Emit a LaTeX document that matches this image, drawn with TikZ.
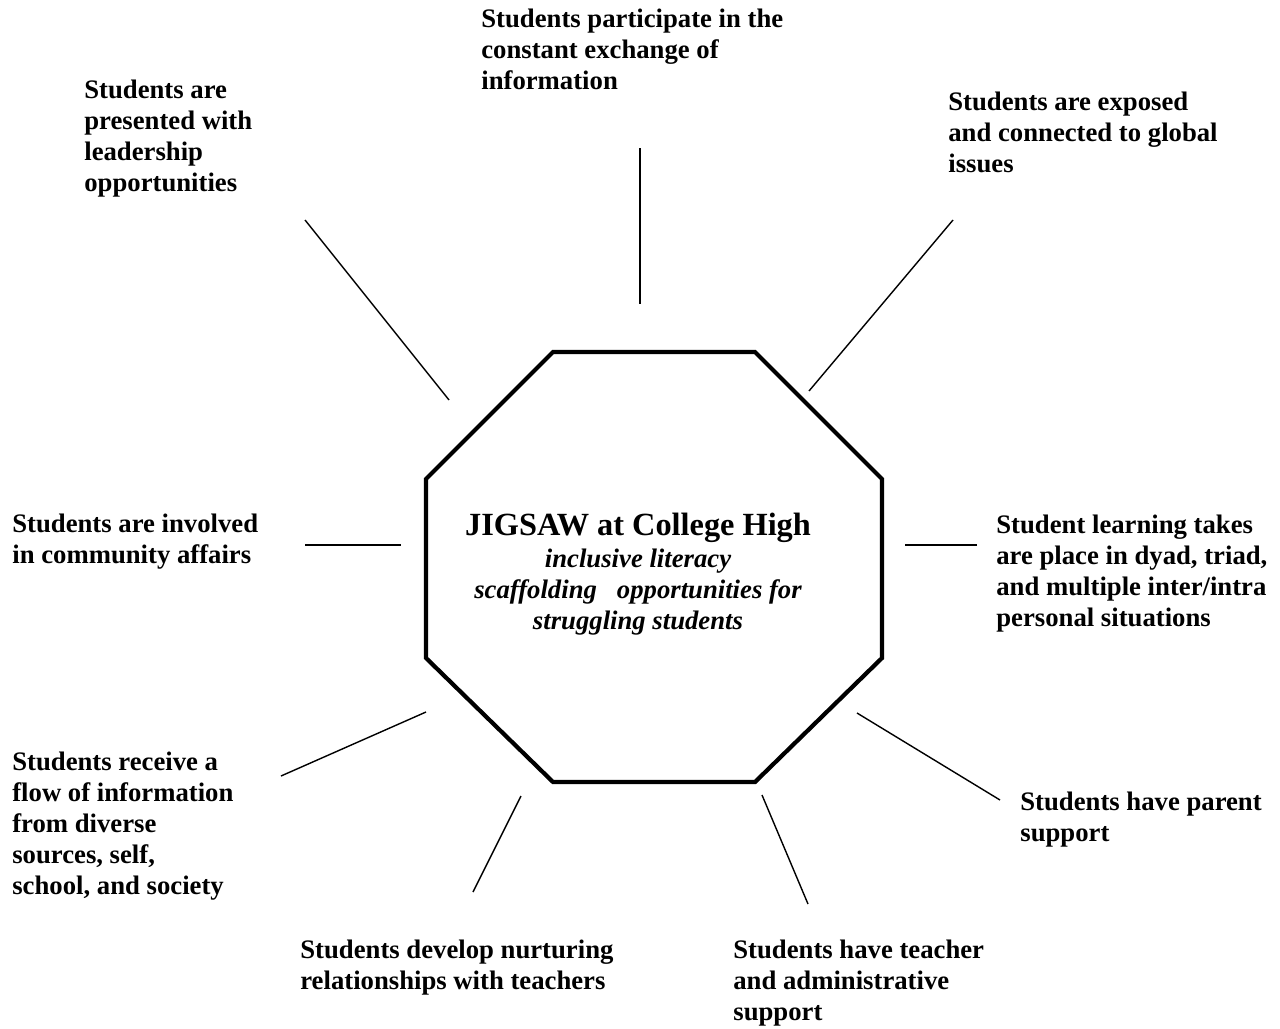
\documentclass[tikz,border=0pt]{standalone}
\usepackage{fontspec}
\setmainfont{Liberation Serif}
\usetikzlibrary{positioning}

\begin{document}
\begin{tikzpicture}[
    x=0.02cm, y=-0.02cm,
    labeltext/.style={anchor=north west, inner sep=0pt, align=left, font=\bfseries\fontsize{15.2}{17.6}\selectfont},
    spoke/.style={draw, line width=0.8pt},
    octagon/.style={draw, line width=2.4pt, line join=miter}
]
\useasboundingbox (0,0) rectangle (1280,1028);

% Octagon corners
\coordinate (o1) at (553,352);
\coordinate (o2) at (755,352);
\coordinate (o3) at (882,479);
\coordinate (o4) at (882,658);
\coordinate (o5) at (755,782);
\coordinate (o6) at (553,782);
\coordinate (o7) at (426,658);
\coordinate (o8) at (426,479);
\draw[octagon] (o1) -- (o2) -- (o3) -- (o4) -- (o5) -- (o6) -- (o7) -- (o8) -- cycle;

% Centre text
\node[align=center, inner sep=0pt, font=\bfseries\itshape\fontsize{15.2}{17.6}\selectfont] (jigsaw) at (638,574)
  {{\upshape\fontsize{18.4}{17.6}\selectfont JIGSAW at College High}\\[1pt]
   inclusive literacy\\
   scaffolding\ \ \ opportunities for\\
   struggling students};

% Labels
\node[labeltext] (top) at (481,9) {Students participate in the\\constant exchange of\\information};
\node[labeltext] (upright) at (948,92) {Students are exposed\\and connected to global\\issues};
\node[labeltext] (upleft) at (84,80) {Students are\\presented with\\leadership\\opportunities};
\node[labeltext] (left) at (12,514) {Students are involved\\in community affairs};
\node[labeltext] (right) at (996,515) {Student learning takes\\are place in dyad, triad,\\and multiple inter/intra\\personal situations};
\node[labeltext] (lowright) at (1020,792) {Students have parent\\support};
\node[labeltext] (botright) at (733,940) {Students have teacher\\and administrative\\support};
\node[labeltext] (botleft) at (300,940) {Students develop nurturing\\relationships with teachers};
\node[labeltext] (lowleft) at (12,752) {Students receive a\\flow of information\\from diverse\\sources, self,\\school, and society};

% Spoke ends
\coordinate (top-a) at (640,148);      \coordinate (top-b) at (640,304);
\coordinate (upright-a) at (953,220);  \coordinate (upright-b) at (809,391);
\coordinate (right-a) at (977,545);    \coordinate (right-b) at (905,545);
\coordinate (lowright-a) at (1000,800);\coordinate (lowright-b) at (857,713);
\coordinate (botright-a) at (808,904); \coordinate (botright-b) at (762,795);
\coordinate (botleft-a) at (473,892);  \coordinate (botleft-b) at (521,796);
\coordinate (lowleft-a) at (281,776);  \coordinate (lowleft-b) at (426,712);
\coordinate (left-a) at (305,545);     \coordinate (left-b) at (401,545);
\coordinate (upleft-a) at (305,220);   \coordinate (upleft-b) at (449,400);

% Spokes
\foreach \s in {top,upright,right,lowright,botright,botleft,lowleft,left,upleft}
  \draw[spoke] (\s-a) -- (\s-b);

\end{tikzpicture}
\end{document}
